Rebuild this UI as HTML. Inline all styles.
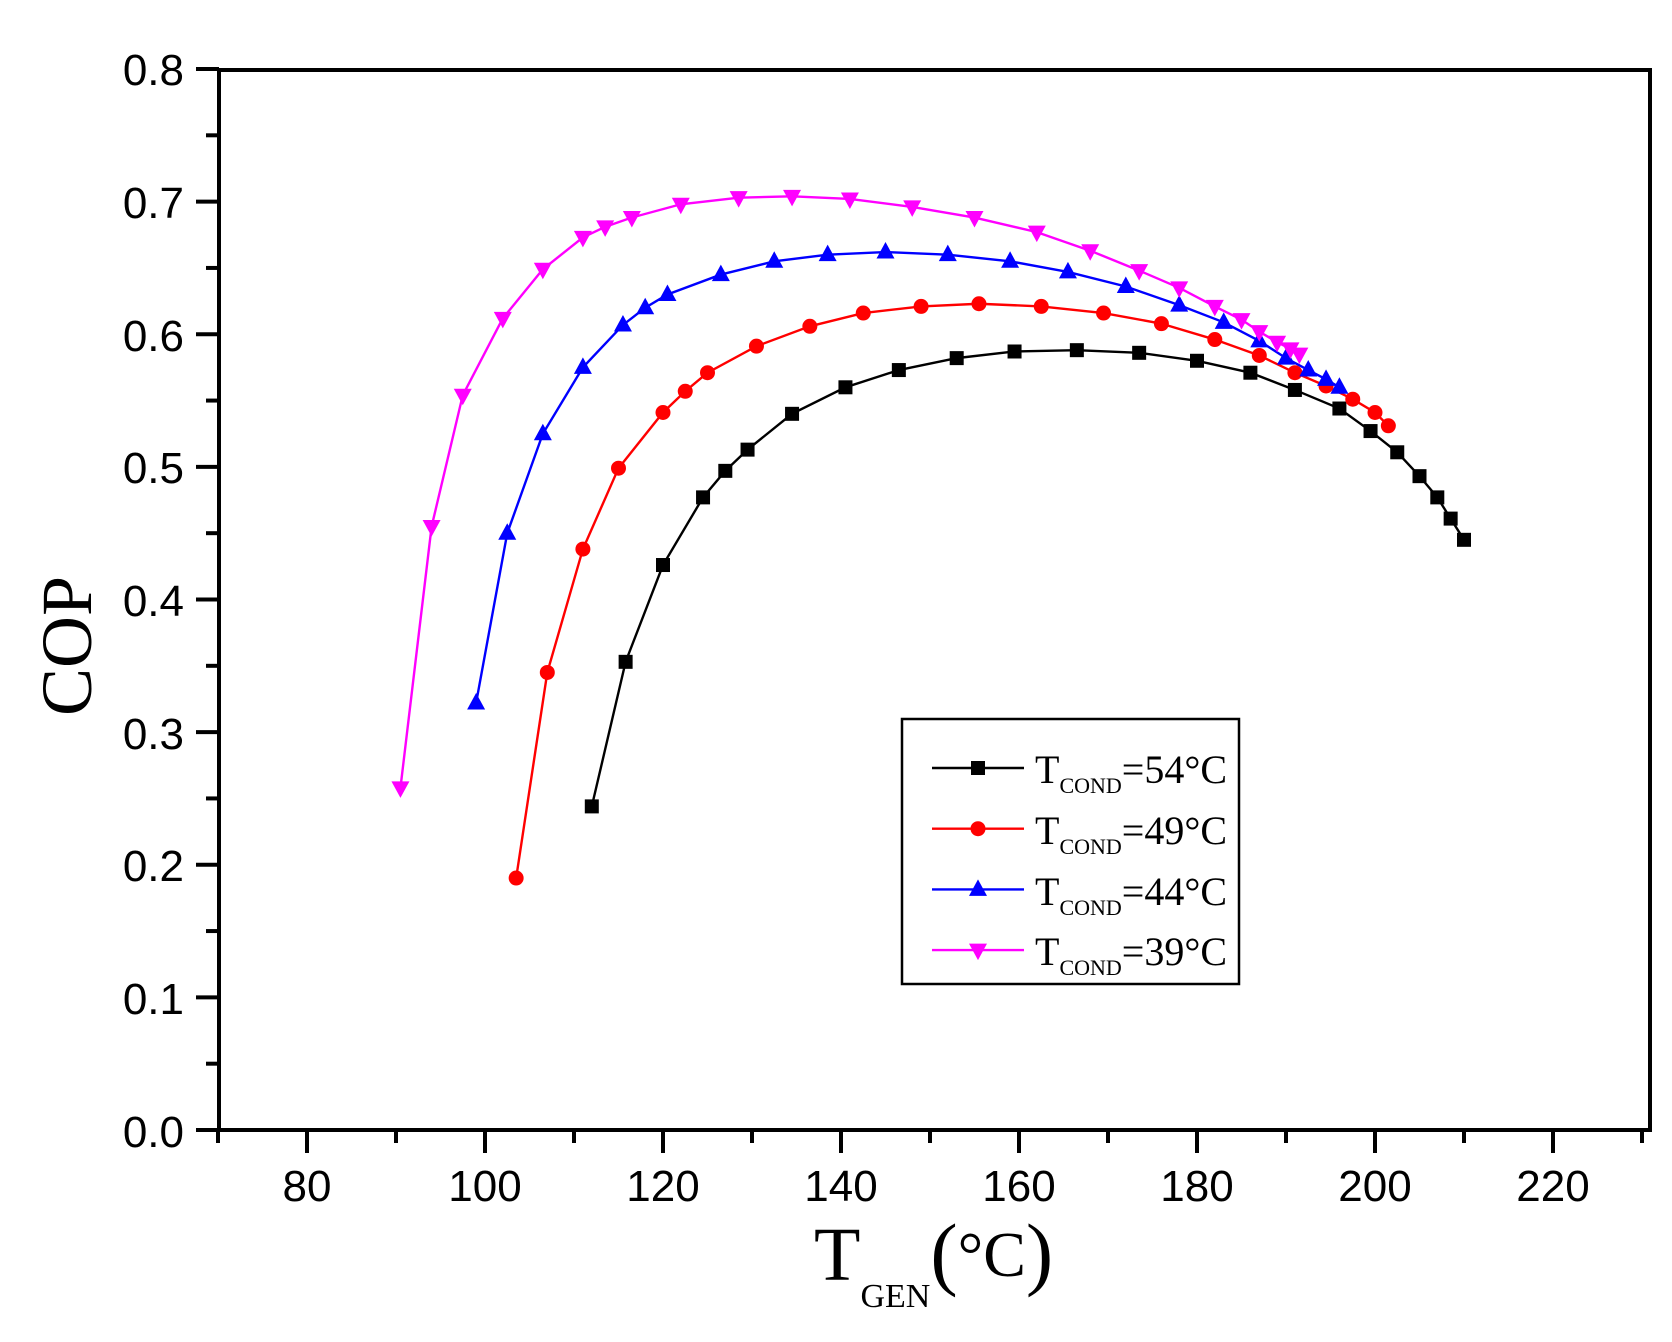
<!DOCTYPE html>
<html><head><meta charset="utf-8"><style>
html,body{margin:0;padding:0;background:#fff;}
svg{display:block;}
</style></head><body>
<svg id="s" width="1672" height="1342" viewBox="0 0 1672 1342" xmlns="http://www.w3.org/2000/svg">
<rect width="1672" height="1342" fill="#fff"/>
<g id="axes" stroke="#000" stroke-width="4" fill="none">
<rect x="219" y="70" width="1431" height="1060"/>
</g>
<g id="ticks" stroke="#000" stroke-width="4"></g>
<g id="series"></g>
<g font-family="Liberation Sans, Arial, sans-serif" font-size="44" fill="#000" text-anchor="end">
<text x="184" y="85">0.8</text>
<text x="184" y="218">0.7</text>
<text x="184" y="351">0.6</text>
<text x="184" y="483">0.5</text>
<text x="184" y="616">0.4</text>
<text x="184" y="749">0.3</text>
<text x="184" y="881">0.2</text>
<text x="184" y="1014">0.1</text>
<text x="184" y="1147">0.0</text>
</g>
<g font-family="Liberation Sans, Arial, sans-serif" font-size="44" fill="#000" text-anchor="middle">
<text x="307" y="1201">80</text>
<text x="485" y="1201">100</text>
<text x="663" y="1201">120</text>
<text x="841" y="1201">140</text>
<text x="1019" y="1201">160</text>
<text x="1197" y="1201">180</text>
<text x="1375" y="1201">200</text>
<text x="1553" y="1201">220</text>
</g>
<text transform="translate(91,646) rotate(-90)" font-family="Liberation Serif, Times New Roman, serif" font-size="72" text-anchor="middle">COP</text>
<text x="814" y="1280" font-family="Liberation Serif, Times New Roman, serif" font-size="76">T<tspan font-size="34" dy="27">GEN</tspan><tspan font-size="82" dy="-27">(</tspan><tspan font-size="64" dy="-4">°C</tspan><tspan font-size="82" dy="4">)</tspan></text>
<rect x="902" y="719" width="337" height="265" fill="#fff" stroke="#000" stroke-width="2.5"/>
<g id="leg"></g>
<g font-family="Liberation Serif, Times New Roman, serif" font-size="40" fill="#000">
<text x="1035" y="783">T<tspan font-size="22" dy="10">COND</tspan><tspan dy="-10">=54°C</tspan></text>
<text x="1035" y="844">T<tspan font-size="22" dy="10">COND</tspan><tspan dy="-10">=49°C</tspan></text>
<text x="1035" y="905">T<tspan font-size="22" dy="10">COND</tspan><tspan dy="-10">=44°C</tspan></text>
<text x="1035" y="965">T<tspan font-size="22" dy="10">COND</tspan><tspan dy="-10">=39°C</tspan></text>
</g>
<script>
var NS="http://www.w3.org/2000/svg";
function X(v){return 307+(v-80)*8.9;}
function Y(v){return 1130-v*1326.25;}
function el(t,a,p){var e=document.createElementNS(NS,t);for(var k in a)e.setAttribute(k,a[k]);p.appendChild(e);return e;}
var tk=document.getElementById('ticks');
for(var v=70;v<=230;v+=10){var maj=(v%20==0);el('line',{x1:X(v),y1:1130,x2:X(v),y2:maj?1153:1143},tk);}
for(var i=0;i<=16;i++){var maj=(i%2==0);var y=Y(i*0.05);el('line',{x1:219,y1:y,x2:maj?196:206,y2:y},tk);}
function marker(type,x,y,c,p){
 if(type=='s')el('rect',{x:x-7,y:y-7,width:14,height:14,fill:c},p);
 else if(type=='c')el('circle',{cx:x,cy:y,r:7.5,fill:c},p);
 else if(type=='u')el('polygon',{points:(x-9)+','+(y+6.5)+' '+(x+9)+','+(y+6.5)+' '+x+','+(y-10),fill:c},p);
 else el('polygon',{points:(x-9)+','+(y-6.5)+' '+(x+9)+','+(y-6.5)+' '+x+','+(y+10),fill:c},p);
}
var S=[
['#000','s',[[112,0.244],[115.8,0.353],[120,0.426],[124.5,0.477],[127,0.497],[129.5,0.513],[134.5,0.540],[140.5,0.560],[146.5,0.573],[153,0.582],[159.5,0.587],[166.5,0.588],[173.5,0.586],[180,0.580],[186,0.571],[191,0.558],[196,0.544],[199.5,0.527],[202.5,0.511],[205,0.493],[207,0.477],[208.5,0.461],[210,0.445]]],
['#f00','c',[[103.5,0.19],[107,0.345],[111,0.438],[115,0.499],[120,0.541],[122.5,0.557],[125,0.571],[130.5,0.591],[136.5,0.606],[142.5,0.616],[149,0.621],[155.5,0.623],[162.5,0.621],[169.5,0.616],[176,0.608],[182,0.596],[187,0.584],[191,0.571],[194.5,0.561],[197.5,0.551],[200,0.541],[201.5,0.531]]],
['#00f','u',[[99,0.322],[102.5,0.450],[106.5,0.525],[111,0.575],[115.5,0.607],[118,0.620],[120.5,0.630],[126.5,0.645],[132.5,0.655],[138.5,0.660],[145,0.662],[152,0.660],[159,0.655],[165.5,0.647],[172,0.636],[178,0.622],[183,0.609],[187,0.595],[190,0.582],[192.5,0.573],[194.5,0.566],[196,0.560]]],
['#f0f','d',[[90.5,0.258],[94,0.455],[97.5,0.554],[102,0.612],[106.5,0.649],[111,0.673],[113.5,0.681],[116.5,0.688],[122,0.698],[128.5,0.703],[134.5,0.704],[141,0.702],[148,0.696],[155,0.688],[162,0.677],[168,0.663],[173.5,0.648],[178,0.635],[182,0.621],[185,0.611],[187,0.602],[189,0.594],[190.5,0.589],[191.5,0.585]]]
];
var g=document.getElementById('series'),lg=document.getElementById('leg');
S.forEach(function(s,k){
 var pts=s[2].map(function(p){return X(p[0])+','+Y(p[1]);}).join(' ');
 el('polyline',{points:pts,fill:'none',stroke:s[0],'stroke-width':2.4},g);
 s[2].forEach(function(p){marker(s[1],X(p[0]),Y(p[1]),s[0],g);});
 var ly=768+k*60.7;
 el('line',{x1:932,y1:ly,x2:1024,y2:ly,stroke:s[0],'stroke-width':2.4},lg);
 marker(s[1],978,ly,s[0],lg);
});
</script>
</svg>
</body></html>
